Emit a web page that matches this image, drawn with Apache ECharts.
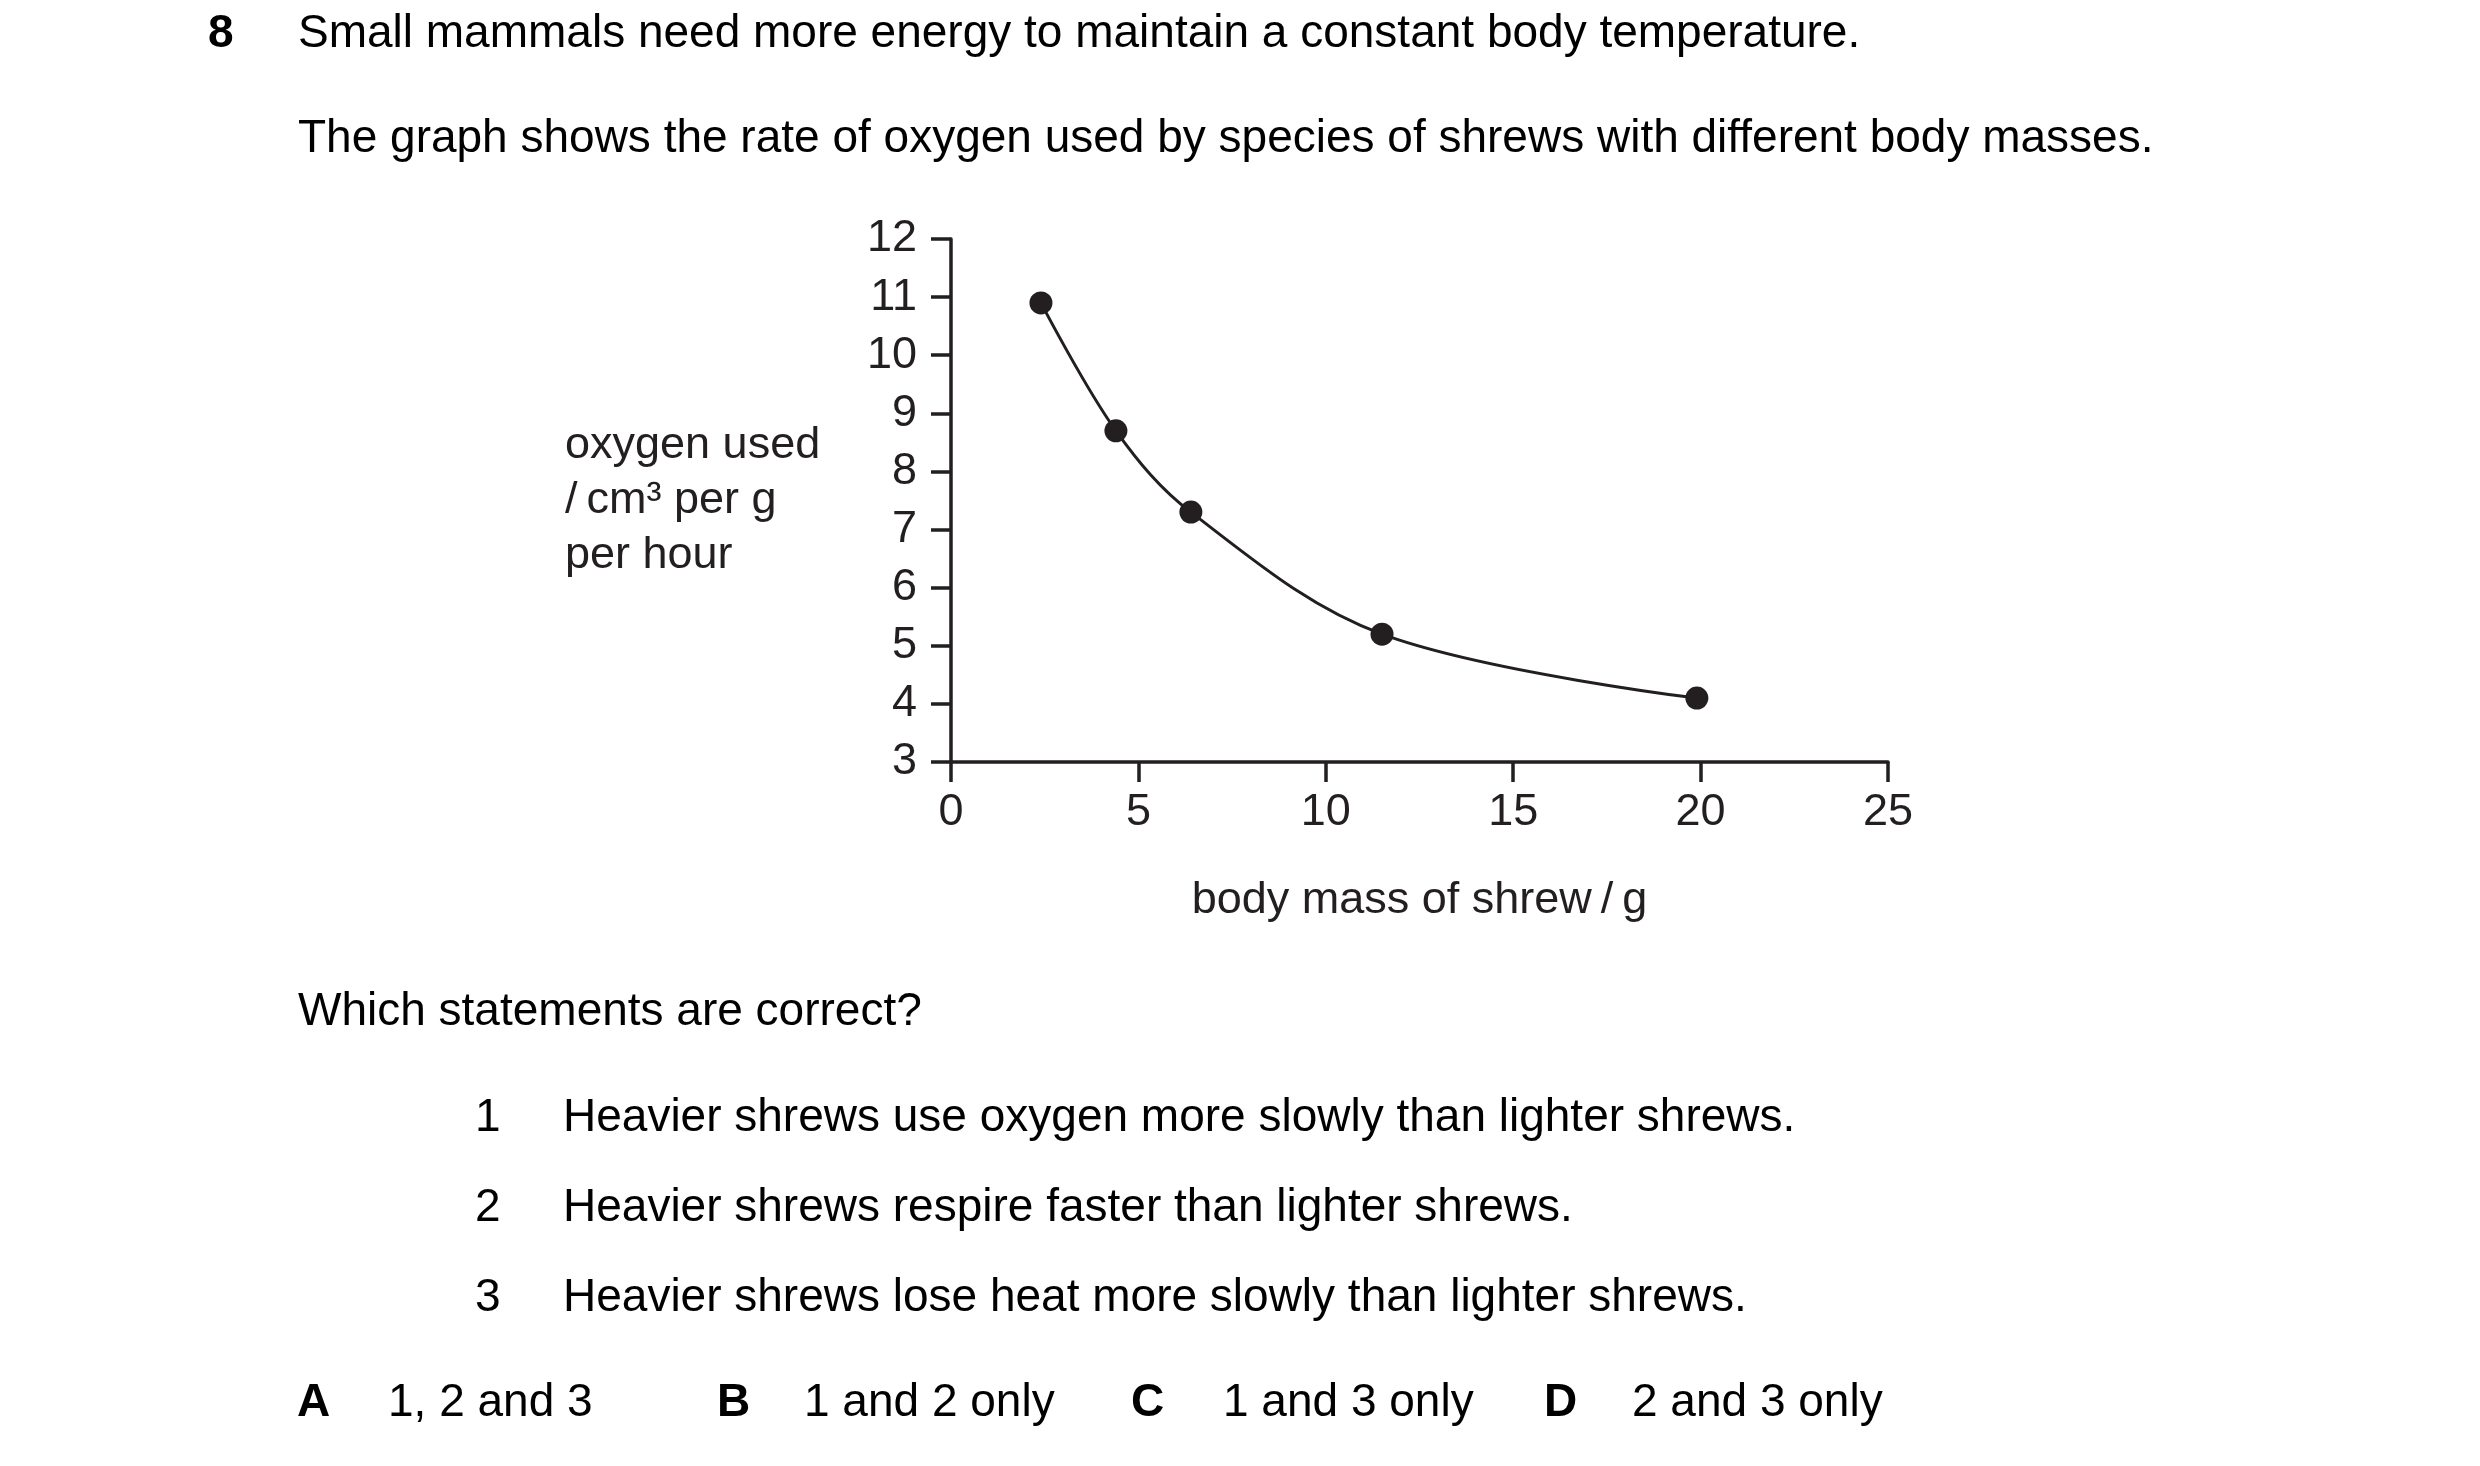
<!DOCTYPE html>
<html>
<head>
<meta charset="utf-8">
<script src="https://cdn.jsdelivr.net/npm/echarts@6/dist/echarts.min.js"></script>
<style>
  html, body { margin: 0; padding: 0; background: #fff; }
  #main { width: 2480px; height: 1466px; }
</style>
</head>
<body>
<div id="main"></div>
<script>
// body mass of shrew (g) and oxygen used (cm3 per g per hour)
const bodyMass = [2.4, 4.4, 6.4, 11.5, 19.9];
const oxygenUsed = [10.9, 8.7, 7.3, 5.2, 4.1];

const questionLines = [
  'Small mammals need more energy to maintain a constant body temperature.',
  'The graph shows the rate of oxygen used by species of shrews with different body masses.'
];
const statements = [
  'Heavier shrews use oxygen more slowly than lighter shrews.',
  'Heavier shrews respire faster than lighter shrews.',
  'Heavier shrews lose heat more slowly than lighter shrews.'
];
const answerLetters = ['A', 'B', 'C', 'D'];
const answerTexts = ['1, 2 and 3', '1 and 2 only', '1 and 3 only', '2 and 3 only'];

const FONT = '"Liberation Sans", Arial, Helvetica, sans-serif';
const INK = '#231f20';

var myChart = echarts.init(document.getElementById('main'));

// page text around the graph
const textEls = [];
function addText(str, x, y, bold) {
  textEls.push({
    type: 'text',
    x: x, y: y,
    style: {
      text: str,
      fontSize: 46,
      fontFamily: FONT,
      fontWeight: bold ? 'bold' : 'normal',
      fill: '#000',
      textVerticalAlign: 'middle'
    }
  });
}
addText('8', 208, 34, true);
addText(questionLines[0], 298, 34);
addText(questionLines[1], 298, 139);
addText('Which statements are correct?', 298, 1012);
statements.forEach((s, i) => {
  addText(String(i + 1), 475, 1118 + i * 90);
  addText(s, 563, 1118 + i * 90);
});
const letterX = [297, 717, 1131, 1544];
const answerX = [388, 804, 1223, 1632];
answerLetters.forEach((l, i) => {
  addText(l, letterX[i], 1403, true);
  addText(answerTexts[i], answerX[i], 1403);
});

var option = {
  backgroundColor: '#fff',
  animation: false,
  grid: { left: 951, top: 239, width: 937, height: 523 },
  xAxis: {
    type: 'value',
    min: 0, max: 25, interval: 5,
    name: 'body mass of shrew\u2009/\u2009g',
    nameLocation: 'middle',
    nameGap: 116,
    nameTextStyle: { fontSize: 45, fontFamily: FONT, color: INK },
    axisLine: { onZero: false, lineStyle: { color: INK, width: 3.5 } },
    axisTick: { inside: false, length: 20, lineStyle: { color: INK, width: 3.5 } },
    axisLabel: { fontSize: 45, fontFamily: FONT, color: INK, margin: 28 },
    splitLine: { show: false }
  },
  yAxis: {
    type: 'value',
    min: 3, max: 12, interval: 1,
    name: 'oxygen used\n/\u2009cm\u00b3 per g\nper hour',
    nameLocation: 'middle',
    nameRotate: 0,
    nameGap: 386,
    nameTextStyle: { fontSize: 45, fontFamily: FONT, color: INK, align: 'left', lineHeight: 55, padding: [0, 0, 6, 0] },
    axisLine: { onZero: false, lineStyle: { color: INK, width: 3.5 } },
    axisTick: { inside: false, length: 20, lineStyle: { color: INK, width: 3.5 } },
    axisLabel: { fontSize: 45, fontFamily: FONT, color: INK, margin: 34, padding: [8, 0, 0, 0] },
    splitLine: { show: false }
  },
  series: [
    {
      type: 'line',
      data: bodyMass.map((m, i) => [m, oxygenUsed[i]]),
      smooth: 0.35,
      symbol: 'circle',
      symbolSize: 23,
      itemStyle: { color: INK },
      lineStyle: { color: INK, width: 3 }
    }
  ],
  graphic: textEls
};
myChart.setOption(option);
</script>
</body>
</html>
